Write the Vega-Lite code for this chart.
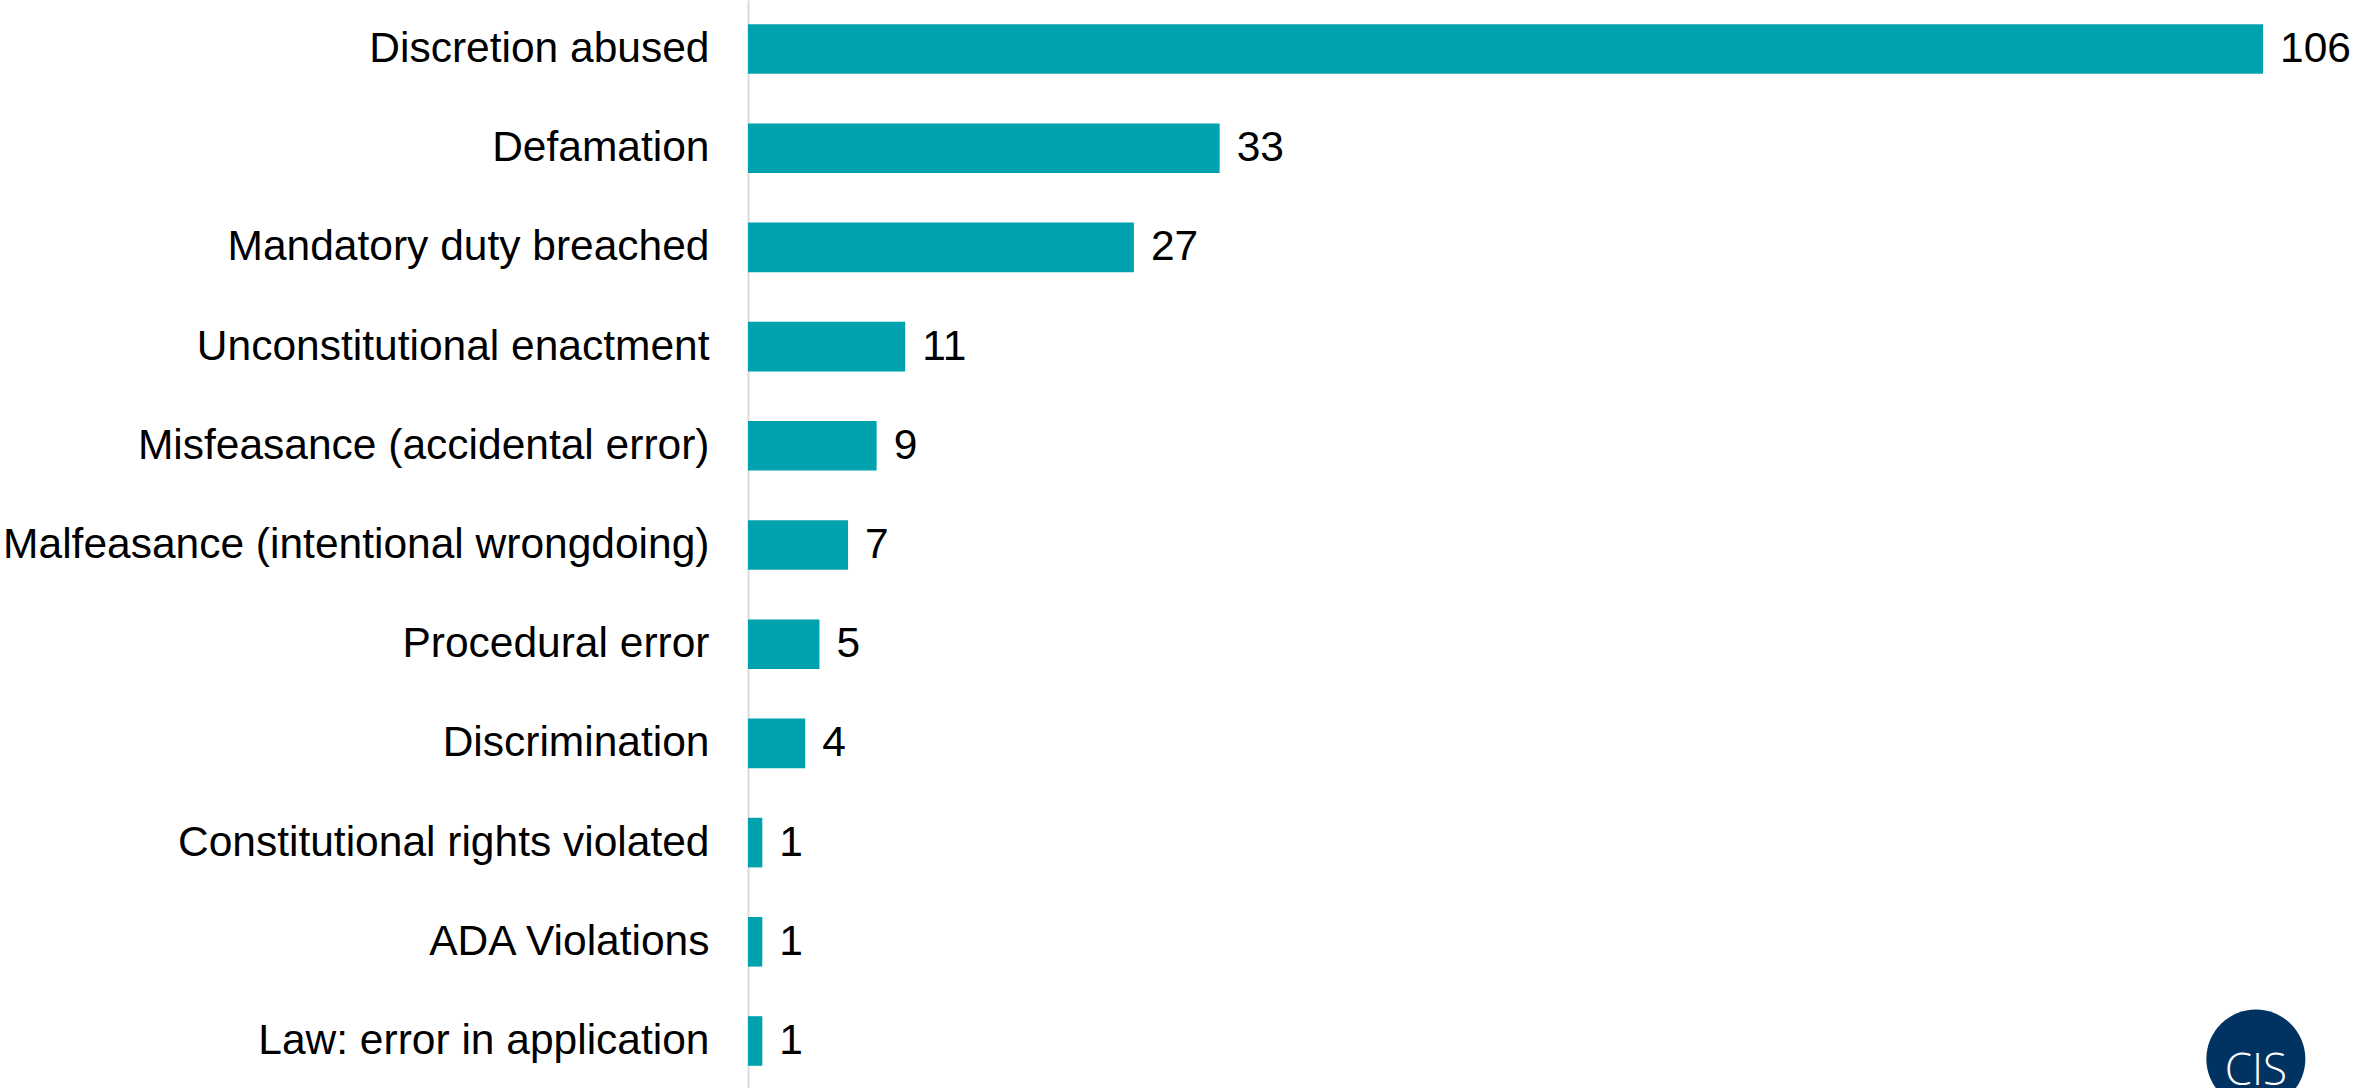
{
  "$schema": "https://vega.github.io/schema/vega-lite/v6.json",
  "autosize": "none",
  "padding": {"left": 748, "top": 0, "right": 93, "bottom": 0},
  "width": 1515,
  "height": 1090,
  "background": "white",
  "config": {"view": {"stroke": null}, "font": "Liberation Sans"},
  "datasets": {
    "main": [
      {"category": "Discretion abused", "count": 106},
      {"category": "Defamation", "count": 33},
      {"category": "Mandatory duty breached", "count": 27},
      {"category": "Unconstitutional enactment", "count": 11},
      {"category": "Misfeasance (accidental error)", "count": 9},
      {"category": "Malfeasance (intentional wrongdoing)", "count": 7},
      {"category": "Procedural error", "count": 5},
      {"category": "Discrimination", "count": 4},
      {"category": "Constitutional rights violated", "count": 1},
      {"category": "ADA Violations", "count": 1},
      {"category": "Law: error in application", "count": 1}
    ],
    "logo": [
      {"category": "Law: error in application", "pos": 105.5, "label": "CIS"}
    ]
  },
  "encoding": {
    "y": {
      "field": "category",
      "type": "nominal",
      "sort": ["Discretion abused", "Defamation", "Mandatory duty breached", "Unconstitutional enactment", "Misfeasance (accidental error)", "Malfeasance (intentional wrongdoing)", "Procedural error", "Discrimination", "Constitutional rights violated", "ADA Violations", "Law: error in application"],
      "scale": {"paddingInner": 0.5, "paddingOuter": 0.244},
      "axis": {
        "title": null,
        "ticks": false,
        "domainColor": "#d9d9d9",
        "domainWidth": 2,
        "labelFont": "Liberation Sans",
        "labelFontSize": 42.5,
        "labelColor": "#000000",
        "labelPadding": 39,
        "labelLimit": 0
      }
    }
  },
  "layer": [
    {
      "data": {"name": "main"},
      "mark": {"type": "bar", "color": "#00a2ad"},
      "encoding": {
        "x": {"field": "count", "type": "quantitative", "scale": {"domain": [0, 106], "nice": false}, "axis": null}
      }
    },
    {
      "data": {"name": "main"},
      "mark": {"type": "text", "align": "left", "baseline": "middle", "dx": 17, "fontSize": 42.5, "font": "Liberation Sans", "color": "#000000"},
      "encoding": {
        "x": {"field": "count", "type": "quantitative"},
        "text": {"field": "count", "type": "quantitative"}
      }
    },
    {
      "data": {"name": "logo"},
      "mark": {"type": "point", "shape": "circle", "filled": true, "color": "#003362", "opacity": 1, "size": 9800, "yOffset": 18},
      "encoding": {
        "x": {"field": "pos", "type": "quantitative"}
      }
    },
    {
      "data": {"name": "logo"},
      "mark": {"type": "text", "align": "center", "baseline": "middle", "yOffset": 31, "fontSize": 44, "font": "Open Sans", "fontWeight": 300, "color": "#ffffff"},
      "encoding": {
        "x": {"field": "pos", "type": "quantitative"},
        "text": {"field": "label", "type": "nominal"}
      }
    }
  ]
}
